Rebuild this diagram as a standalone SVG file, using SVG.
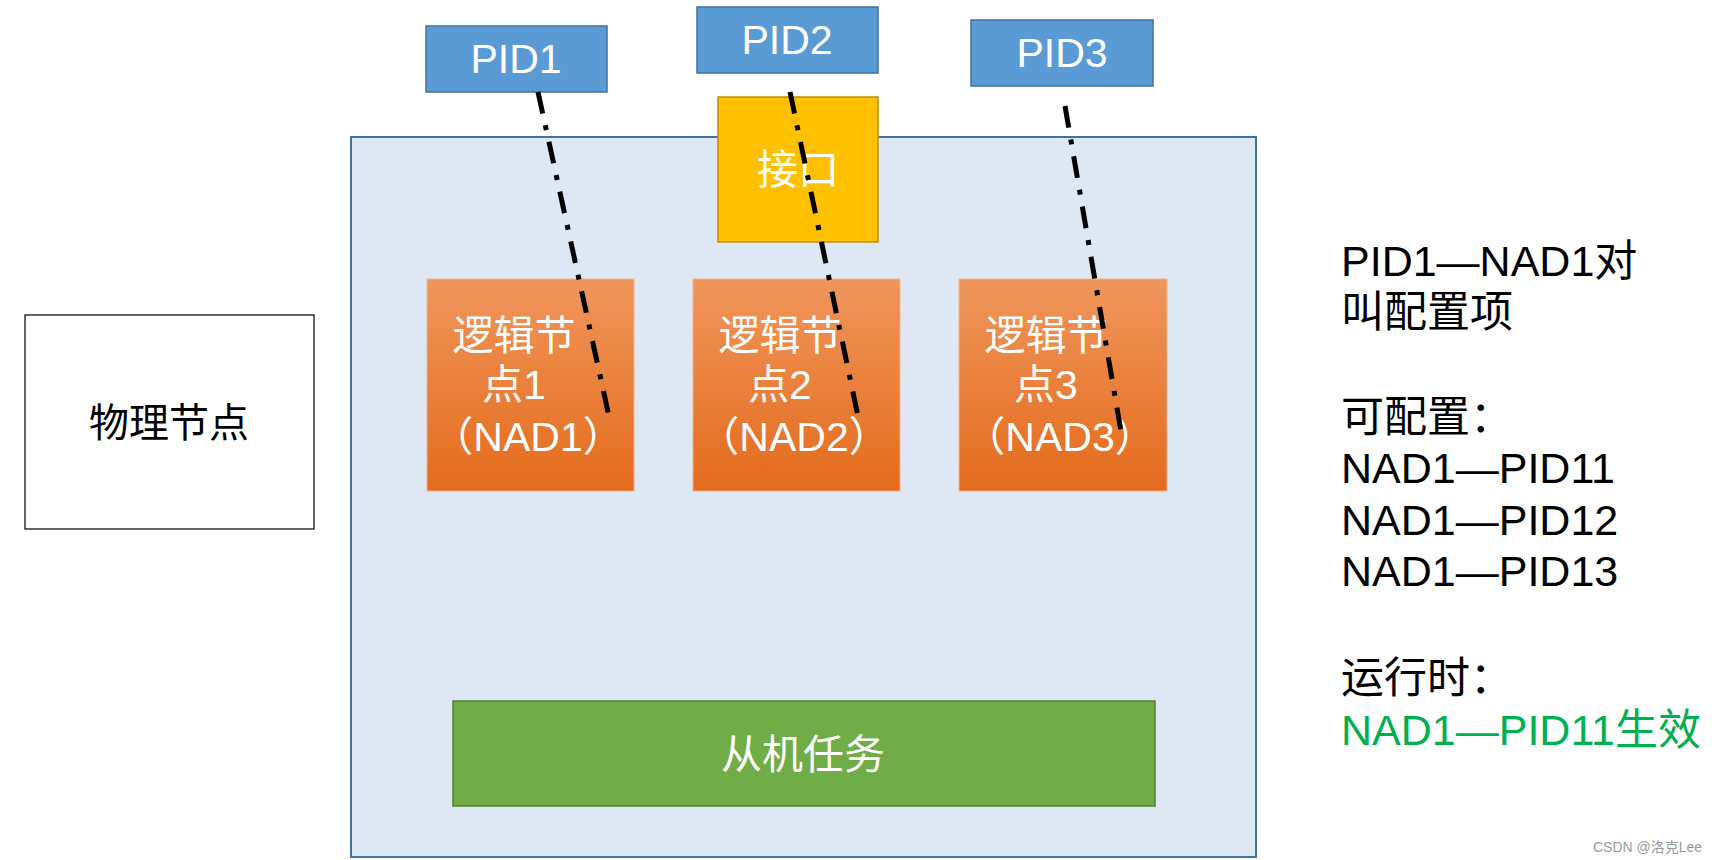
<svg xmlns="http://www.w3.org/2000/svg" width="1716" height="860" viewBox="0 0 1716 860">
<style>
text{font-family:"Liberation Sans","Noto Sans CJK SC",sans-serif}
.pid{fill:#5b9bd5;stroke:#41719c;stroke-width:1.5}
.w{fill:#fff;font-size:41px;text-anchor:middle}
.ln{fill:url(#og);stroke:#f4b183;stroke-width:1}
.r{font-size:43px;fill:#000}
.d{stroke:#000;stroke-width:5;stroke-dasharray:22 12 5 12;fill:none}
</style>
<defs><linearGradient id="og" x1="0" y1="0" x2="0" y2="1"><stop offset="0" stop-color="#f0965c"/><stop offset="1" stop-color="#e46b1c"/></linearGradient></defs>
<rect width="1716" height="860" fill="#fff"/>
<g id="phys"><rect x="25" y="315" width="289" height="214" fill="#fff" stroke="#000" stroke-width="1.2"/><text x="169" y="437" font-size="40" text-anchor="middle">物理节点</text></g>
<g id="container"><rect x="351" y="137" width="905" height="720" fill="#dde8f4" stroke="#41719c" stroke-width="2"/></g>
<g id="pid1"><rect class="pid" x="426" y="26" width="181" height="66"/><text class="w" x="516" y="73">PID1</text></g>
<g id="pid2"><rect class="pid" x="697" y="7" width="181" height="66"/><text class="w" x="787" y="54">PID2</text></g>
<g id="pid3"><rect class="pid" x="971" y="20" width="182" height="66"/><text class="w" x="1062" y="67">PID3</text></g>
<g id="iface"><rect x="718" y="97" width="160" height="145" fill="#ffc000" stroke="#bf9000" stroke-width="1.5"/><text class="w" x="798" y="184">接口</text></g>
<g id="nad1"><rect class="ln" x="427" y="279" width="207" height="212"/><text class="w" x="514" y="350">逻辑节</text><text class="w" x="514" y="399">点1</text><text class="w" x="528" y="451">（NAD1）</text></g>
<g id="nad2"><rect class="ln" x="693" y="279" width="207" height="212"/><text class="w" x="780" y="350">逻辑节</text><text class="w" x="780" y="399">点2</text><text class="w" x="794" y="451">（NAD2）</text></g>
<g id="nad3"><rect class="ln" x="959" y="279" width="208" height="212"/><text class="w" x="1046" y="350">逻辑节</text><text class="w" x="1046" y="399">点3</text><text class="w" x="1060" y="451">（NAD3）</text></g>
<g id="task"><rect x="453" y="701" width="702" height="105" fill="#70ad47" stroke="#507e32" stroke-width="1.5"/><text class="w" x="803" y="769">从机任务</text></g>
<g id="connectors">
<line class="d" x1="538" y1="92" x2="610" y2="421"/>
<line class="d" x1="790" y1="92" x2="859" y2="421"/>
<line class="d" x1="1065" y1="106" x2="1122" y2="437"/>
</g>
<g id="notes">
<text class="r" x="1341" y="276">PID1—NAD1对</text>
<text class="r" x="1341" y="327">叫配置项</text>
<text class="r" x="1341" y="432">可配置：</text>
<text class="r" x="1341" y="483">NAD1—PID11</text>
<text class="r" x="1341" y="535">NAD1—PID12</text>
<text class="r" x="1341" y="586">NAD1—PID13</text>
<text class="r" x="1341" y="693">运行时：</text>
<text class="r" x="1341" y="745" fill="#00b050" style="fill:#00b050">NAD1—PID11生效</text>
<text x="1593" y="852" font-size="14" fill="#999">CSDN @洛克Lee</text>
</g>
</svg>
